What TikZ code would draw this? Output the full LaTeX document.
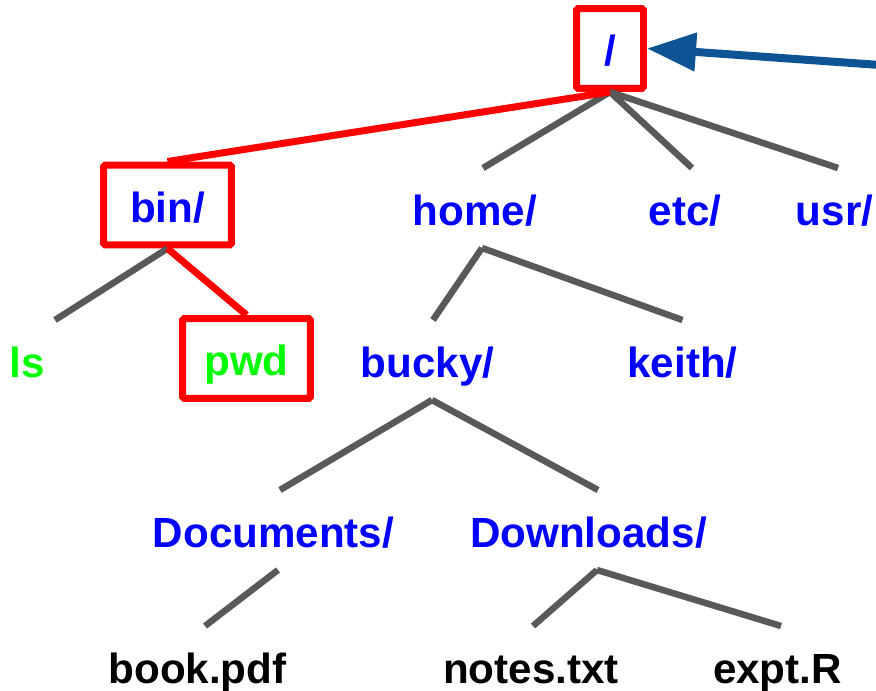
\documentclass[tikz,border=0pt]{standalone}
\usepackage{fontspec}
\setmainfont{Liberation Sans}
\usetikzlibrary{arrows.meta}
\definecolor{dirblue}{RGB}{0,0,255}
\definecolor{exegreen}{RGB}{0,255,0}
\definecolor{pathred}{RGB}{255,0,0}
\definecolor{linegray}{RGB}{89,89,89}
\definecolor{cwdblue}{RGB}{14,83,148}
\tikzset{
  entry/.style={minimum height=1.6cm, text height=0.68cm, text depth=0pt, inner sep=0pt, outer sep=0pt},
  dir/.style={entry, text=dirblue},
  exe/.style={entry, text=exegreen},
  file/.style={entry, text=black},
  picked/.style={draw=pathred, line width=0.14cm, rounded corners=1pt, outer sep=0.07cm},
  branch/.style={draw=linegray, line width=0.13cm},
  onpath/.style={draw=pathred, line width=0.14cm},
  pointer/.style={draw=cwdblue, line width=0.16cm, -{Triangle[length=0.98cm, width=0.74cm]}}
}
\begin{document}
\begin{tikzpicture}[x=0.02cm, y=-0.02cm, font=\fontsize{24}{28}\selectfont\bfseries]
		\useasboundingbox (0,0) rectangle (876,690);
		\node[dir, picked, minimum width=1.34cm] (root) at (610, 48.5) {/\hspace{0.4cm}};
		\node[dir, picked, minimum width=2.56cm] (bin) at (167.5, 205) {bin/\hspace{0.34cm}};
		\node[dir] (home) at (475, 208) {home/};
		\node[dir] (etc) at (685, 208) {etc/};
		\node[dir] (usr) at (834.5, 208) {usr/};
		\node[exe] (ls) at (27.5, 360) {ls};
		\node[exe, picked, minimum width=2.56cm] (pwd) at (246.5, 358.5) {pwd};
		\node[dir] (bucky) at (427.5, 360) {bucky/};
		\node[dir] (keith) at (682.5, 360) {keith/};
		\node[dir] (docs) at (273.5, 530) {Documents/};
		\node[dir] (dls) at (588.5, 530) {Downloads/};
		\node[file] (book) at (197.5, 666) {book.pdf};
		\node[file] (notes) at (531, 666) {notes.txt};
		\node[file] (expt) at (777.5, 666) {expt.R};
		\coordinate (cwd) at (880, 65);

		\path (root.south) edge[branch] ([xshift=0.16cm]home.north)
		(root.south) edge[branch] ([xshift=0.14cm]etc.north)
		(root.south) edge[branch] ([xshift=0.07cm]usr.north)
		(root.south) edge[onpath] (bin.north)
		(bin.south) edge[branch] ([xshift=0.55cm]ls.north)
		(bin.south) edge[onpath] (pwd.north)
		([xshift=0.14cm]home.south) edge[branch] ([xshift=0.11cm]bucky.north)
		([xshift=0.14cm]home.south) edge[branch] (keith.north)
		([xshift=0.09cm]bucky.south) edge[branch] ([xshift=0.13cm]docs.north)
		([xshift=0.09cm]bucky.south) edge[branch] ([xshift=0.19cm]dls.north)
		([xshift=0.09cm]docs.south) edge[branch] ([xshift=0.15cm]book.north)
		([xshift=0.17cm]dls.south) edge[branch] ([xshift=0.04cm]notes.north)
		([xshift=0.17cm]dls.south) edge[branch] ([xshift=0.07cm]expt.north);
		\draw[pointer] (cwd) -- (root.east);
	\end{tikzpicture}
\end{document}
